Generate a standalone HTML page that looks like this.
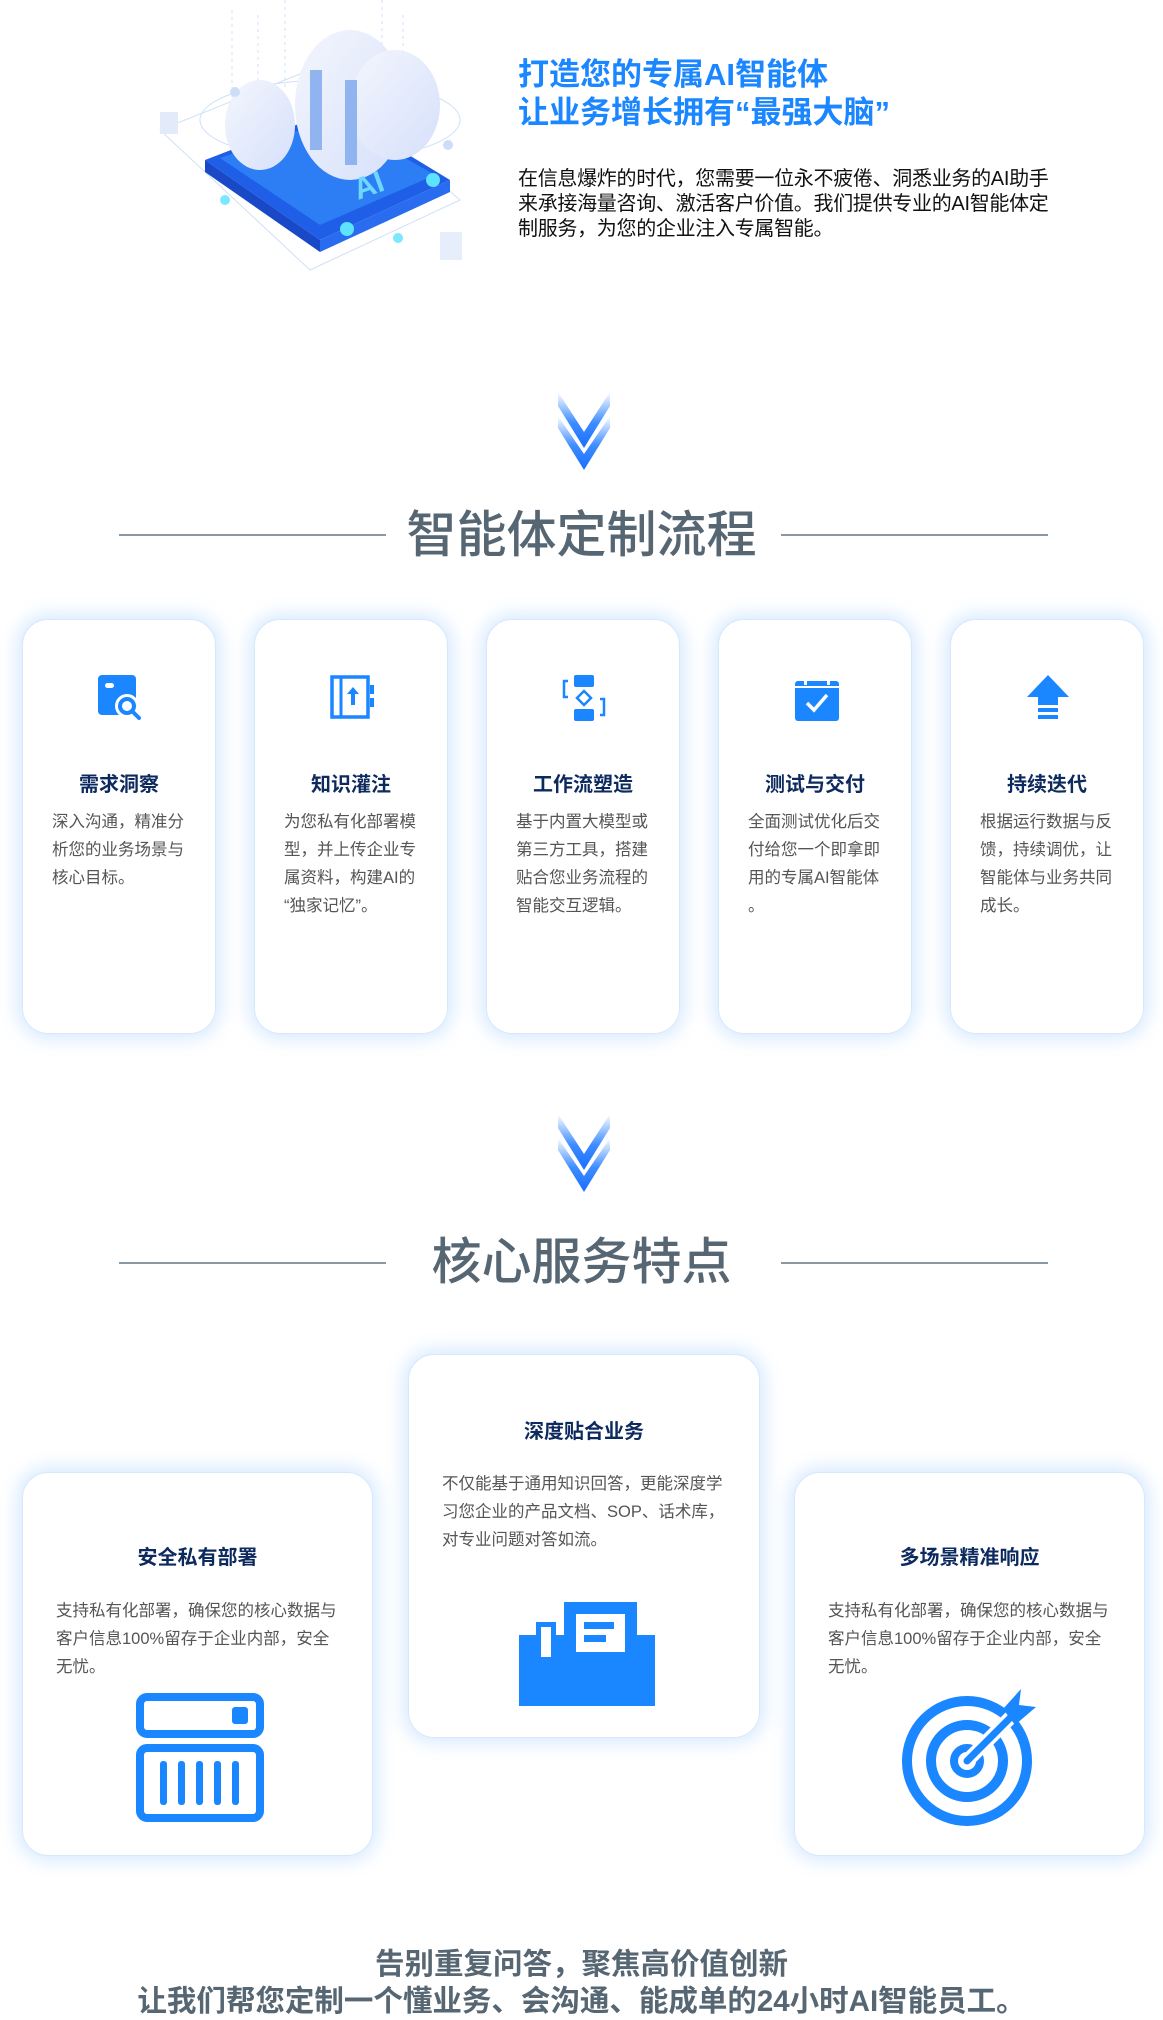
<!DOCTYPE html>
<html><head><meta charset="utf-8"><style>
*{margin:0;padding:0;box-sizing:border-box}
body{width:1163px;height:2014px;background:#fff;position:relative;overflow:hidden;font-family:"Liberation Sans","Noto Sans CJK SC",sans-serif}
.a{position:absolute}
.h1{left:518px;top:56px;font-size:31px;line-height:38px;font-weight:bold;color:#1a86ff;white-space:nowrap}
.p1{left:518px;top:167px;font-size:20px;line-height:25px;color:#111;white-space:nowrap;letter-spacing:-0.3px}
.sec{font-size:50px;color:#566673;font-weight:500;text-align:center;width:1163px;left:0;line-height:60px}
.ln{height:2px;background:#8a98a3;width:267px}
.card{background:#fff;border-radius:26px;border:1px solid #d8e8fb;box-shadow:0 0 18px 4px rgba(60,150,255,.22)}
.card .t{position:absolute;left:0;width:100%;text-align:center;font-weight:bold;color:#0d2a5e;font-size:20px}
.card .d{position:absolute;left:29px;font-size:16.5px;line-height:28px;color:#555;white-space:nowrap}
.card svg{position:absolute}
.c2 .d{font-size:16.5px;line-height:28px}
.bt{left:0;width:1163px;text-align:center;font-weight:bold;color:#566673;font-size:29.5px;line-height:37px;white-space:nowrap}
</style></head><body>

<svg class="a" style="left:150px;top:0" width="330" height="275" viewBox="0 0 330 275">
<defs><linearGradient id="cl" x1="0" y1="0" x2="1" y2="1"><stop offset="0" stop-color="#f3f6fd"/><stop offset="1" stop-color="#d6e0fb"/></linearGradient></defs>
<g stroke="#cfe0f7" stroke-width="1" fill="none">
<line x1="82" y1="10" x2="82" y2="110" stroke-dasharray="3 4"/><line x1="108" y1="15" x2="108" y2="120" stroke-dasharray="3 4"/><line x1="135" y1="0" x2="135" y2="90" stroke-dasharray="3 4"/><line x1="253" y1="15" x2="253" y2="130" stroke-dasharray="3 4"/><line x1="232" y1="0" x2="232" y2="60" stroke-dasharray="3 4"/>
<path d="M10 130 L160 270 L310 200 L160 70 Z"/>
<ellipse cx="180" cy="120" rx="130" ry="40"/>
</g>
<rect x="10" y="112" width="18" height="22" fill="#e3ebfa"/><rect x="290" y="232" width="22" height="28" fill="#e6eefb"/>
<path d="M55 160 L170 240 L300 180 L185 110 Z" fill="#1f5fe8"/>
<path d="M55 160 L55 172 L170 252 L170 240 Z" fill="#1a49c7"/>
<path d="M170 240 L300 180 L300 192 L170 252 Z" fill="#2a6cf0"/>
<path d="M70 158 L170 225 L285 175 L185 118 Z" fill="#2d7df5"/>
<ellipse cx="200" cy="105" rx="55" ry="75" fill="url(#cl)"/>
<ellipse cx="245" cy="105" rx="45" ry="55" fill="url(#cl)"/>
<ellipse cx="110" cy="125" rx="35" ry="45" fill="url(#cl)"/>
<g fill="#8fb4f0"><rect x="160" y="70" width="12" height="80"/><rect x="195" y="80" width="12" height="85"/></g>
<text x="208" y="200" font-size="30" font-weight="bold" fill="#6fd6ff" font-family="Liberation Sans" transform="rotate(-20 208 200)">AI</text>
<circle cx="197" cy="229" r="7" fill="#5ee3ff"/><circle cx="283" cy="180" r="7" fill="#5ee3ff"/><circle cx="75" cy="200" r="5" fill="#7ae8ff"/><circle cx="248" cy="238" r="5" fill="#7ae8ff"/>
<circle cx="85" cy="92" r="5" fill="#cdddf7"/><circle cx="298" cy="145" r="5" fill="#cdddf7"/>
</svg>

<div class="a h1">打造您的专属AI智能体<br>让业务增长拥有“最强大脑”</div>
<div class="a p1">在信息爆炸的时代，您需要一位永不疲倦、洞悉业务的AI助手<br>来承接海量咨询、激活客户价值。我们提供专业的AI智能体定<br>制服务，为您的企业注入专属智能。</div>

<svg class="a" style="left:556px;top:392px" width="56" height="78" viewBox="0 0 56 78">
<defs><linearGradient id="ag" x1="0" y1="0" x2="0" y2="1"><stop offset="0" stop-color="#fff"/><stop offset=".55" stop-color="#3d8cff"/><stop offset="1" stop-color="#1a6fff"/></linearGradient></defs>
<path d="M2 0 L28 40 L54 0 L54 14 L28 56 L2 14Z" fill="url(#ag)"/><path d="M2 24 L28 62 L54 24 L54 36 L28 78 L2 36Z" fill="url(#ag)"/>
</svg>
<div class="a ln" style="left:119px;top:534px"></div><div class="a ln" style="left:781px;top:534px"></div>
<div class="a sec" style="top:505px">智能体定制流程</div>

<div class="a card" style="left:22px;top:619px;width:194px;height:415px">
<svg style="left:75px;top:55px" width="46" height="46" viewBox="0 0 46 46"><rect x="0" y="0" width="38" height="40" rx="4" fill="#1a86ff"/><rect x="7" y="8" width="9" height="5" rx="2.5" fill="#fff"/><circle cx="29" cy="31" r="12" fill="#fff"/><circle cx="29" cy="31" r="7" fill="none" stroke="#1a86ff" stroke-width="4"/><line x1="34" y1="36" x2="41" y2="43" stroke="#1a86ff" stroke-width="4" stroke-linecap="round"/></svg>
<div class="t" style="top:148px">需求洞察</div>
<div class="d" style="top:188px">深入沟通，精准分<br>析您的业务场景与<br>核心目标。</div></div>

<div class="a card" style="left:254px;top:619px;width:194px;height:415px">
<svg style="left:75px;top:55px" width="46" height="46" viewBox="0 0 46 46"><rect x="2" y="2" width="36" height="40" fill="none" stroke="#1a86ff" stroke-width="3.5"/><line x1="11" y1="2" x2="11" y2="42" stroke="#1a86ff" stroke-width="3"/><path d="M23 12 L29 19 L25 19 L25 30 L21 30 L21 19 L17 19Z" fill="#1a86ff"/><rect x="40" y="10" width="4" height="9" fill="#1a86ff"/><rect x="40" y="23" width="4" height="9" fill="#1a86ff"/></svg>
<div class="t" style="top:148px">知识灌注</div>
<div class="d" style="top:188px">为您私有化部署模<br>型，并上传企业专<br>属资料，构建AI的<br>“独家记忆”。</div></div>

<div class="a card" style="left:486px;top:619px;width:194px;height:415px">
<svg style="left:74px;top:55px" width="46" height="46" viewBox="0 0 46 46"><rect x="13" y="0" width="20" height="12" rx="2" fill="#1a86ff"/><rect x="13" y="34" width="20" height="12" rx="2" fill="#1a86ff"/><path d="M23 16 L30 23 L23 30 L16 23Z" fill="none" stroke="#1a86ff" stroke-width="2.5"/><path d="M7 6 L3 6 L3 22 L7 22" fill="none" stroke="#1a86ff" stroke-width="2.5"/><path d="M39 24 L43 24 L43 40 L39 40" fill="none" stroke="#1a86ff" stroke-width="2.5"/></svg>
<div class="t" style="top:148px">工作流塑造</div>
<div class="d" style="top:188px">基于内置大模型或<br>第三方工具，搭建<br>贴合您业务流程的<br>智能交互逻辑。</div></div>

<div class="a card" style="left:718px;top:619px;width:194px;height:415px">
<svg style="left:75px;top:55px" width="46" height="46" viewBox="0 0 46 46"><rect x="1" y="6" width="44" height="40" rx="3" fill="#1a86ff"/><rect x="1" y="11" width="44" height="2" fill="#fff"/><rect x="10" y="0" width="3" height="10" fill="#fff"/><rect x="33" y="0" width="3" height="10" fill="#fff"/><path d="M13 28 L20 35 L33 20" fill="none" stroke="#fff" stroke-width="3.5"/></svg>
<div class="t" style="top:148px">测试与交付</div>
<div class="d" style="top:188px">全面测试优化后交<br>付给您一个即拿即<br>用的专属AI智能体<br>。</div></div>

<div class="a card" style="left:950px;top:619px;width:194px;height:415px">
<svg style="left:76px;top:55px" width="46" height="46" viewBox="0 0 46 46"><path d="M21 0 L42 22 L31 22 L31 30 L11 30 L11 22 L0 22Z" fill="#1a86ff"/><rect x="11" y="33" width="20" height="4" fill="#1a86ff"/><rect x="11" y="40" width="20" height="4" fill="#1a86ff"/></svg>
<div class="t" style="top:148px">持续迭代</div>
<div class="d" style="top:188px">根据运行数据与反<br>馈，持续调优，让<br>智能体与业务共同<br>成长。</div></div>

<svg class="a" style="left:556px;top:1114px" width="56" height="78" viewBox="0 0 56 78">
<path d="M2 0 L28 40 L54 0 L54 14 L28 56 L2 14Z" fill="url(#ag)"/><path d="M2 24 L28 62 L54 24 L54 36 L28 78 L2 36Z" fill="url(#ag)"/>
</svg>
<div class="a ln" style="left:119px;top:1262px"></div><div class="a ln" style="left:781px;top:1262px"></div>
<div class="a sec" style="top:1232px">核心服务特点</div>

<div class="a card c2" style="left:408px;top:1354px;width:352px;height:384px">
<div class="t" style="top:60px">深度贴合业务</div>
<div class="d" style="left:33px;top:115px">不仅能基于通用知识回答，更能深度学<br>习您企业的产品文档、SOP、话术库，<br>对专业问题对答如流。</div>
<svg style="left:110px;top:247px" width="136" height="104" viewBox="0 0 136 104"><rect x="0" y="33" width="136" height="71" fill="#1a86ff"/><rect x="17" y="20" width="20" height="40" fill="#1a86ff"/><rect x="22" y="25" width="10" height="30" fill="#fff"/><rect x="45" y="0" width="73" height="58" fill="#1a86ff"/><rect x="57" y="12" width="49" height="38" fill="#fff"/><rect x="65" y="20" width="30" height="7" fill="#1a86ff"/><rect x="65" y="33" width="22" height="7" fill="#1a86ff"/></svg>
</div>

<div class="a card c2" style="left:22px;top:1472px;width:351px;height:384px">
<div class="t" style="top:68px">安全私有部署</div>
<div class="d" style="left:33px;top:124px">支持私有化部署，确保您的核心数据与<br>客户信息100%留存于企业内部，安全<br>无忧。</div>
<svg style="left:113px;top:220px" width="128" height="130" viewBox="0 0 128 130"><rect x="4" y="4" width="120" height="37" rx="7" fill="none" stroke="#1a86ff" stroke-width="8"/><rect x="96" y="14" width="16" height="17" rx="3" fill="#1a86ff"/><rect x="4" y="55" width="120" height="70" rx="7" fill="none" stroke="#1a86ff" stroke-width="8"/><g fill="#1a86ff"><rect x="24" y="68" width="7" height="44" rx="3"/><rect x="42" y="68" width="7" height="44" rx="3"/><rect x="60" y="68" width="7" height="44" rx="3"/><rect x="78" y="68" width="7" height="44" rx="3"/><rect x="96" y="68" width="7" height="44" rx="3"/></g></svg>
</div>

<div class="a card c2" style="left:794px;top:1472px;width:351px;height:384px">
<div class="t" style="top:68px">多场景精准响应</div>
<div class="d" style="left:33px;top:124px">支持私有化部署，确保您的核心数据与<br>客户信息100%留存于企业内部，安全<br>无忧。</div>
<svg style="left:106px;top:216px" width="140" height="140" viewBox="0 0 140 140"><circle cx="66" cy="72" r="60" fill="none" stroke="#1a86ff" stroke-width="10"/><circle cx="66" cy="72" r="36" fill="none" stroke="#1a86ff" stroke-width="10"/><circle cx="66" cy="72" r="13" fill="none" stroke="#1a86ff" stroke-width="8"/><line x1="66" y1="72" x2="115" y2="23" stroke="#fff" stroke-width="14"/><line x1="66" y1="72" x2="112" y2="26" stroke="#1a86ff" stroke-width="7" stroke-linecap="round"/><path d="M102 20 L120 0 L118 16 L135 18 L114 36Z" fill="#1a86ff"/></svg>
</div>

<div class="a bt" style="top:1946px">告别重复问答，聚焦高价值创新</div>
<div class="a bt" style="top:1983px">让我们帮您定制一个懂业务、会沟通、能成单的24小时AI智能员工。</div>
</body></html>
